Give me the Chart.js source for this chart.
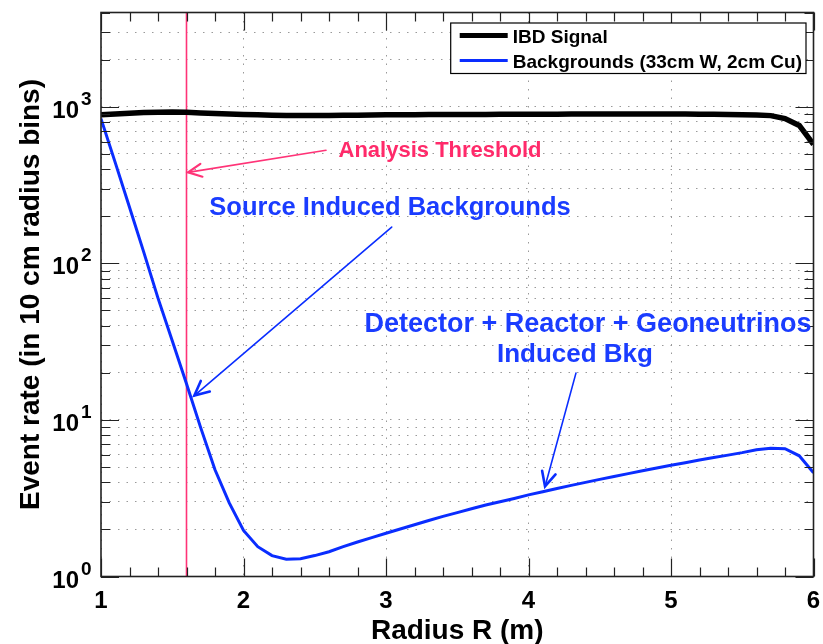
<!DOCTYPE html>
<html><head><meta charset="utf-8">
<script src="https://cdn.jsdelivr.net/npm/chart.js@4.4.1/dist/chart.umd.min.js"></script>
<style>html,body{margin:0;padding:0;background:#fff}</style>
</head><body>
<canvas id="c" width="823" height="644" style="width:823px;height:644px;display:block"></canvas>
<script>
// ---- data ----
const radius = [1.0,1.1,1.2,1.3,1.4,1.5,1.6,1.7,1.8,1.9,2.0,2.1,2.2,2.3,2.4,2.5,2.6,2.7,2.8,2.9,3.0,3.1,3.2,3.3,3.4,3.5,3.6,3.7,3.8,3.9,4.0,4.1,4.2,4.3,4.4,4.5,4.6,4.7,4.8,4.9,5.0,5.1,5.2,5.3,5.4,5.5,5.6,5.7,5.8,5.9,6.0];
const ibdSignal = [890,900,910,918,924,926,922,914,905,898,893,888,884,881,879,879,880,882,884,886,888,889,890,891,892,893,893,894,895,895,896,897,897,898,898,899,899,900,900,900,899,898,897,895,893,890,886,878,840,760,575];
const backgrounds = [840,440,228,118,60,32,17,8.9,4.8,2.95,1.97,1.55,1.36,1.29,1.30,1.36,1.44,1.55,1.66,1.77,1.89,2.01,2.14,2.28,2.42,2.56,2.71,2.86,3.0,3.15,3.32,3.48,3.65,3.82,3.99,4.17,4.35,4.54,4.73,4.93,5.13,5.33,5.54,5.75,5.96,6.18,6.45,6.6,6.55,5.9,4.6];
const thresholdR = 1.6;
const seriesNames = ['IBD Signal', 'Backgrounds (33cm W, 2cm Cu)'];
const xTickValues = [1,2,3,4,5,6];
const yDecades = [1,10,100,1000];
const yDecadeBase = ['10','10','10','10'];
const yDecadeExp = ['0','1','2','3'];
const xTitle = 'Radius R (m)';
const yTitle = 'Event rate (in 10 cm radius bins)';
// annotation texts (anchored in data units)
const noteThreshold = {text:'Analysis Threshold', x:3.379, y:535, tail:[2.579,527], head:[1.611,381]};
const noteSource = {text:'Source Induced Backgrounds', x:3.028, y:231, tail:[3.040,170.6], head:[1.655,14.3]};
const noteDetector = {lines:['Detector + Reactor + Geoneutrinos','Induced Bkg'], x:[4.418,4.326], y:[41.7,26.8], tail:[4.333,19.9], head:[4.116,3.76]};

const FONT = "'Liberation Sans', Arial, Helvetica, sans-serif";
const BLUE_LINE = '#0a2dff';
const BLUE_TEXT = '#1a3cff';
const PINK_LINE = '#ff3377';
const PINK_TEXT = '#ff2a6a';

function arrow(ctx, x1, y1, x2, y2, color, w, hl, hw) {
  ctx.save();
  ctx.strokeStyle = color; ctx.lineWidth = w; ctx.lineCap = 'round';
  ctx.beginPath(); ctx.moveTo(x1, y1); ctx.lineTo(x2, y2); ctx.stroke();
  const a = Math.atan2(y2 - y1, x2 - x1);
  ctx.lineWidth = hw;
  ctx.beginPath();
  ctx.moveTo(x2 - hl * Math.cos(a - 0.45), y2 - hl * Math.sin(a - 0.45));
  ctx.lineTo(x2, y2);
  ctx.lineTo(x2 - hl * Math.cos(a + 0.45), y2 - hl * Math.sin(a + 0.45));
  ctx.stroke();
  ctx.restore();
}

const decor = {
  id: 'decor',
  afterDraw(chart) {
    const ctx = chart.ctx, xs = chart.scales.x, ys = chart.scales.y, A = chart.chartArea;
    ctx.save();
    // tick marks (inward, all four sides)
    ctx.strokeStyle = '#222'; ctx.lineWidth = 1.2;
    for (let i = 5; i <= 30; i++) {
      const px = Math.round(xs.getPixelForValue(i / 5)) + 0.5;
      const L = (i % 5 === 0) ? 18 : 9;
      ctx.beginPath();
      ctx.moveTo(px, A.bottom); ctx.lineTo(px, A.bottom - L);
      ctx.moveTo(px, A.top); ctx.lineTo(px, A.top + L);
      ctx.stroke();
    }
    ys.ticks.forEach(t => {
      const py = Math.round(ys.getPixelForValue(t.value)) + 0.5;
      const lg = Math.log10(t.value);
      const L = Math.abs(lg - Math.round(lg)) < 1e-9 ? 18 : 9;
      ctx.beginPath();
      ctx.moveTo(A.left, py); ctx.lineTo(A.left + L, py);
      ctx.moveTo(A.right, py); ctx.lineTo(A.right - L, py);
      ctx.stroke();
    });
    // frame
    ctx.strokeStyle = '#222'; ctx.lineWidth = 1.6;
    ctx.strokeRect(A.left, A.top, A.right - A.left, A.bottom - A.top);
    // y decade labels with superscripts
    ctx.fillStyle = '#000';
    yDecades.forEach((v, i) => {
      const py = ys.getPixelForValue(v);
      ctx.font = 'bold 24px ' + FONT; ctx.textAlign = 'right'; ctx.textBaseline = 'alphabetic';
      ctx.fillText(yDecadeBase[i], A.left - 22, py + 11);
      ctx.font = 'bold 19px ' + FONT; ctx.textAlign = 'left';
      ctx.fillText(yDecadeExp[i], A.left - 20, py - 2);
    });
    // legend
    ctx.font = 'bold 19px ' + FONT;
    const maxW = Math.max(...seriesNames.map(s => ctx.measureText(s).width));
    const right = A.right - 7.5, top = A.top + 10.5;
    const left = right - (9 + 48 + 5 + maxW + 4), bottom = top + 50.5;
    ctx.fillStyle = '#fff'; ctx.fillRect(left, top, right - left, bottom - top);
    ctx.strokeStyle = '#000'; ctx.lineWidth = 1.2; ctx.strokeRect(left, top, right - left, bottom - top);
    const rows = [{c:'#000', w:5, y: top + 12.5}, {c:BLUE_LINE, w:3, y: top + 37.5}];
    rows.forEach((r, i) => {
      ctx.strokeStyle = r.c; ctx.lineWidth = r.w; ctx.lineCap = 'butt';
      ctx.beginPath(); ctx.moveTo(left + 9, r.y); ctx.lineTo(left + 57, r.y); ctx.stroke();
      ctx.fillStyle = '#000'; ctx.textAlign = 'left'; ctx.textBaseline = 'alphabetic';
      ctx.fillText(seriesNames[i], left + 62, r.y + 7);
    });
    // annotations
    const P = (r, v) => [xs.getPixelForValue(r), ys.getPixelForValue(v)];
    ctx.textAlign = 'center'; ctx.textBaseline = 'alphabetic';
    // threshold
    ctx.fillStyle = PINK_TEXT; ctx.font = 'bold 22px ' + FONT;
    let p = P(noteThreshold.x, noteThreshold.y); ctx.fillText(noteThreshold.text, p[0], p[1] + 8);
    let t = P(...noteThreshold.tail), h = P(...noteThreshold.head);
    arrow(ctx, t[0], t[1], h[0], h[1], PINK_LINE, 1.6, 15, 2.2);
    // source
    ctx.fillStyle = BLUE_TEXT; ctx.font = 'bold 25.5px ' + FONT;
    p = P(noteSource.x, noteSource.y); ctx.fillText(noteSource.text, p[0], p[1] + 9);
    t = P(...noteSource.tail); h = P(...noteSource.head);
    arrow(ctx, t[0], t[1], h[0], h[1], BLUE_LINE, 1.6, 16, 2.6);
    // detector
    ctx.font = 'bold 27px ' + FONT;
    ctx.fillText(noteDetector.lines[0], ...(q => [q[0], q[1] + 9.5])(P(noteDetector.x[0], noteDetector.y[0])));
    ctx.font = 'bold 26px ' + FONT;
    ctx.fillText(noteDetector.lines[1], ...(q => [q[0], q[1] + 9.5])(P(noteDetector.x[1], noteDetector.y[1])));
    t = P(...noteDetector.tail); h = P(...noteDetector.head);
    arrow(ctx, t[0], t[1], h[0], h[1], BLUE_LINE, 1.6, 16, 2.6);
    ctx.restore();
  }
};

const gridStyle = {color:'#9a9a9a', lineWidth:1, drawTicks:false};
new Chart(document.getElementById('c'), {
  type: 'line',
  data: {
    datasets: [
      {label: seriesNames[0], data: radius.map((r, i) => ({x:r, y:ibdSignal[i]})), borderColor:'#000', borderWidth:5.5, pointRadius:0, tension:0, fill:false},
      {label: seriesNames[1], data: radius.map((r, i) => ({x:r, y:backgrounds[i]})), borderColor:BLUE_LINE, borderWidth:3, pointRadius:0, tension:0, fill:false},
      {label: 'Analysis Threshold', data: [{x:thresholdR, y:1}, {x:thresholdR, y:4000}], borderColor:PINK_LINE, borderWidth:1.6, pointRadius:0, fill:false}
    ]
  },
  options: {
    responsive: false, animation: false, devicePixelRatio: 1,
    layout: {padding: {top: 12.5, right: 9.5, left: 0, bottom: 0}},
    plugins: {legend: {display:false}, tooltip: {enabled:false}},
    scales: {
      x: {
        type: 'linear', min: 1, max: 6,
        afterBuildTicks: s => { s.ticks = xTickValues.map(v => ({value:v})); },
        ticks: {autoSkip:false, maxRotation:0, color:'#000', padding:10, font:{family:FONT, size:24, weight:'bold'}, callback: v => String(v)},
        grid: gridStyle,
        border: {display:false, dash:[1.5, 7]},
        title: {display:true, text:xTitle, color:'#000', font:{family:FONT, size:28, weight:'bold', lineHeight:1}, padding:{top:0, bottom:-1}},
        afterFit: s => { s.height = 67.5; s.paddingLeft = 0; s.paddingRight = 0; }
      },
      y: {
        type: 'logarithmic', min: 1, max: 4000,
        afterBuildTicks: s => {
          const t = [];
          for (let k = 0; k <= 3; k++) for (let m = 1; m <= 9; m++) { const v = m * Math.pow(10, k); if (v <= 4000) t.push({value:v}); }
          s.ticks = t;
        },
        ticks: {display:false, autoSkip:false},
        grid: gridStyle,
        border: {display:false, dash:[1.5, 7]},
        title: {display:true, text:yTitle, color:'#000', font:{family:FONT, size:28, weight:'bold', lineHeight:1}, padding:{top:17, bottom:0}},
        afterFit: s => { s.width = 101; s.paddingTop = 0; s.paddingBottom = 0; }
      }
    }
  },
  plugins: [decor]
});
</script>
</body></html>
